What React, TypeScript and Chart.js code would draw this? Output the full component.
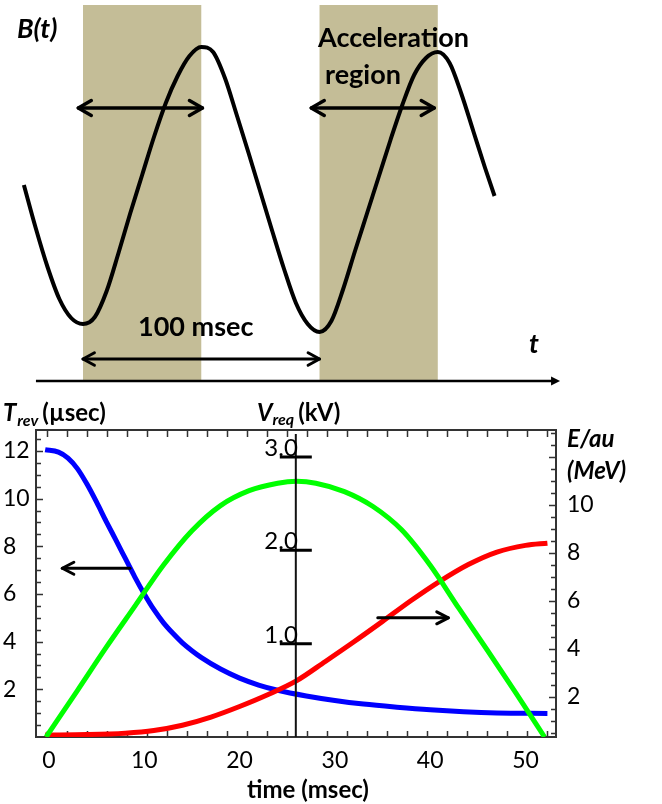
import React, { useEffect, useRef } from 'react';
import { Chart, registerables } from 'chart.js';

Chart.register(...registerables);

const FONT = 'Lato, "Open Sans", "DejaVu Sans", sans-serif';

// ---------------- Top panel: schematic of the magnet field B(t) ----------------
// time in msec (trough-to-trough = 100 msec), field in arbitrary units
const bTime = [-25, -20, -15, -10, -5, 0, 5, 10, 15, 20, 25, 30, 35, 40, 45, 50, 55, 60, 65, 70, 75, 80, 85, 90, 95, 100, 105, 110, 115, 120, 125, 130, 135, 140, 145, 150, 155, 160, 165, 170, 174];
const bField = [196, 153, 114, 82, 63, 57, 64, 90, 128, 168, 206, 244, 278, 305, 325, 334, 329, 303, 266, 228, 189, 150, 112, 78, 57, 49, 60, 92, 130, 167, 204, 241, 276, 306, 323, 329, 318, 287, 250, 213, 185];
const accelStart = [0, 100];
const accelEnd = [50, 150];
const periodText = '100 msec';

// ---------------- Bottom panel ----------------
const timeTicks = [0, 10, 20, 30, 40, 50];
const tRevTicks = [2, 4, 6, 8, 10, 12];
const energyTicks = [2, 4, 6, 8, 10];
const vReqTicks = [1.0, 2.0, 3.0];

// revolution period T_rev (µsec), blue, left axis
const tRevTime = [-0.4, 1, 2, 3, 4, 5, 6, 7, 8, 9, 10, 11, 12, 13, 14, 15, 16, 18, 20, 22, 24, 27, 30, 33, 36.5, 40, 43.5, 47, 52.3];
const tRevValues = [12.05, 11.95, 11.7, 11.25, 10.6, 9.85, 9.05, 8.28, 7.5, 6.72, 6.0, 5.35, 4.8, 4.35, 3.95, 3.62, 3.33, 2.85, 2.47, 2.18, 1.96, 1.72, 1.53, 1.38, 1.25, 1.14, 1.06, 1.01, 0.99];

// required voltage V_req (kV), green, centre axis
const vReqTime = [-0.3, 3, 6, 9, 12, 15, 18, 21, 24, 26, 28, 31, 34, 37, 40, 43, 46, 49, 52];
const vReqValues = [0, 0.5, 0.96, 1.4, 1.84, 2.21, 2.48, 2.64, 2.72, 2.74, 2.72, 2.63, 2.47, 2.22, 1.84, 1.38, 0.93, 0.47, 0];

// energy per nucleon E/au (MeV), red, right axis
const energyTime = [-0.4, 4, 8, 11, 14, 17, 20, 23, 26, 29, 32, 35, 38, 41, 44, 47, 50, 52.3];
const energyValues = [0.41, 0.43, 0.49, 0.6, 0.82, 1.16, 1.6, 2.1, 2.68, 3.48, 4.3, 5.15, 6.02, 6.82, 7.52, 8.04, 8.32, 8.41];

// ---------------- annotation placement (not data) ----------------
const TOP = {
  shadeHigh: 376, shadeLow: 1,
  rangeArrowLevel: 273, rangeArrows: [[-2, 50.5], [96.5, 148.5]],
  periodArrowLevel: 22,
  axisLevel: 0, axisFrom: -19.9, axisTo: 201.7,
};
const BOT = {
  vAxisAt: 25.9,
  leftArrow: { from: 8.5, to: 1.4, level: 7.08 },
  rightArrow: { from: 34.5, to: 41.9, level: 5.3 },
};

const pts = (xs: number[], ys: number[]) => xs.map((x, i) => ({ x, y: ys[i] }));

function chevron(ctx: CanvasRenderingContext2D, tx: number, ty: number, ang: number, len: number, spread: number) {
  ctx.beginPath();
  ctx.moveTo(tx - len * Math.cos(ang - spread), ty - len * Math.sin(ang - spread));
  ctx.lineTo(tx, ty);
  ctx.lineTo(tx - len * Math.cos(ang + spread), ty - len * Math.sin(ang + spread));
  ctx.stroke();
}

function arrow(ctx: CanvasRenderingContext2D, x1: number, y1: number, x2: number, y2: number, both: boolean, width: number, len: number, spread: number) {
  ctx.save();
  ctx.strokeStyle = '#000';
  ctx.lineWidth = width;
  ctx.lineCap = 'round';
  ctx.lineJoin = 'round';
  ctx.beginPath();
  ctx.moveTo(x1, y1);
  ctx.lineTo(x2, y2);
  ctx.stroke();
  const ang = Math.atan2(y2 - y1, x2 - x1);
  chevron(ctx, x2, y2, ang, len, spread);
  if (both) chevron(ctx, x1, y1, ang + Math.PI, len, spread);
  ctx.restore();
}

const topDecor = {
  id: 'topDecor',
  beforeDatasetsDraw(chart: any) {
    const { ctx, scales } = chart;
    const x = scales.x, y = scales.y;
    ctx.save();
    ctx.fillStyle = '#C4BD97';
    const yT = y.getPixelForValue(TOP.shadeHigh);
    const yB = y.getPixelForValue(TOP.shadeLow);
    accelStart.forEach((s, i) => {
      const x1 = x.getPixelForValue(s);
      const x2 = x.getPixelForValue(accelEnd[i]);
      ctx.fillRect(x1, yT, x2 - x1, yB - yT);
    });
    ctx.restore();
  },
  afterDatasetsDraw(chart: any) {
    const { ctx, scales } = chart;
    const x = scales.x, y = scales.y;
    ctx.save();
    // acceleration-region double arrows
    const ya = y.getPixelForValue(TOP.rangeArrowLevel);
    TOP.rangeArrows.forEach(([a, b]) => {
      arrow(ctx, x.getPixelForValue(a), ya, x.getPixelForValue(b), ya, true, 3.5, 15, 0.52);
    });
    // period arrow
    const yp = y.getPixelForValue(TOP.periodArrowLevel);
    arrow(ctx, x.getPixelForValue(accelStart[0]), yp, x.getPixelForValue(accelStart[1]), yp, true, 3, 13, 0.5);
    // time axis
    const yx = y.getPixelForValue(TOP.axisLevel);
    const xs = x.getPixelForValue(TOP.axisFrom);
    const xe = x.getPixelForValue(TOP.axisTo);
    ctx.strokeStyle = '#000';
    ctx.fillStyle = '#000';
    ctx.lineWidth = 2.5;
    ctx.beginPath();
    ctx.moveTo(xs, yx);
    ctx.lineTo(xe - 7, yx);
    ctx.stroke();
    ctx.beginPath();
    ctx.moveTo(xe, yx);
    ctx.lineTo(xe - 9, yx - 4.5);
    ctx.lineTo(xe - 9, yx + 4.5);
    ctx.closePath();
    ctx.fill();
    // texts
    ctx.textBaseline = 'alphabetic';
    ctx.textAlign = 'left';
    ctx.font = `italic bold 27px ${FONT}`;
    ctx.fillText('B(t)', 17, 38);
    ctx.fillText('t', 529, 353);
    ctx.font = `bold 27px ${FONT}`;
    ctx.fillText('Acceleration', 318, 47);
    ctx.fillText('region', 325, 84);
    ctx.fillText(periodText, 138, 336);
    ctx.restore();
  },
};

const bottomFrame = {
  id: 'bottomFrame',
  beforeDatasetsDraw(chart: any) {
    const { ctx, chartArea: a, scales } = chart;
    const xt = scales.xt, yL = scales.y, yE = scales.yE;
    ctx.save();
    ctx.strokeStyle = '#333';
    ctx.lineWidth = 2;
    ctx.strokeRect(a.left, a.top, a.right - a.left, a.bottom - a.top);
    ctx.lineWidth = 1.5;
    ctx.beginPath();
    for (let v = 0; v <= xt.max; v += 2) {
      const px = Math.round(xt.getPixelForValue(v)) + 0.5;
      ctx.moveTo(px, a.top);
      ctx.lineTo(px, a.top + 7);
      ctx.moveTo(px, a.bottom);
      ctx.lineTo(px, a.bottom - 6);
    }
    for (let v = 0.5; v < yL.max; v += 0.5) {
      const py = Math.round(yL.getPixelForValue(v)) + 0.5;
      const len = v % 2 === 0 ? 7 : 5;
      ctx.moveTo(a.left, py);
      ctx.lineTo(a.left + len, py);
    }
    for (let v = 0.5; v < yE.max; v += 0.5) {
      if (v <= yE.min) continue;
      const py = Math.round(yE.getPixelForValue(v)) + 0.5;
      const len = v % 2 === 0 ? 7 : 5;
      ctx.moveTo(a.right, py);
      ctx.lineTo(a.right - len, py);
    }
    ctx.stroke();
    ctx.restore();
  },
  afterDatasetsDraw(chart: any) {
    const { ctx, chartArea: a, scales } = chart;
    const x = scales.x, yL = scales.y, yE = scales.yE, yV = scales.yV;
    ctx.save();
    // centre V_req axis
    const xv = x.getPixelForValue(BOT.vAxisAt);
    ctx.strokeStyle = '#111';
    ctx.lineWidth = 2;
    ctx.beginPath();
    ctx.moveTo(xv, a.top + 4);
    ctx.lineTo(xv, a.bottom);
    ctx.stroke();
    ctx.fillStyle = '#000';
    ctx.font = `24px ${FONT}`;
    ctx.textAlign = 'right';
    ctx.textBaseline = 'alphabetic';
    vReqTicks.forEach((v) => {
      const py = yV.getPixelForValue(v);
      ctx.lineWidth = 3;
      ctx.strokeStyle = '#000';
      ctx.beginPath();
      ctx.moveTo(xv - 16, py);
      ctx.lineTo(xv + 16, py);
      ctx.stroke();
      ctx.fillText(v.toFixed(1), xv + 2, py - 1);
    });
    // direction arrows
    const la = BOT.leftArrow, ra = BOT.rightArrow;
    const yla = yL.getPixelForValue(la.level);
    arrow(ctx, x.getPixelForValue(la.from), yla, x.getPixelForValue(la.to), yla, false, 3, 13, 0.48);
    const yra = yE.getPixelForValue(ra.level);
    arrow(ctx, x.getPixelForValue(ra.from), yra, x.getPixelForValue(ra.to), yra, false, 3, 13, 0.48);
    ctx.restore();
  },
  afterDraw(chart: any) {
    const { ctx } = chart;
    ctx.save();
    ctx.fillStyle = '#000';
    ctx.textAlign = 'left';
    ctx.textBaseline = 'alphabetic';
    // left axis label: T_rev (µsec)
    let cx = 3;
    ctx.font = `italic bold 24px ${FONT}`;
    ctx.fillText('T', cx, 31);
    cx += ctx.measureText('T').width + 1;
    ctx.font = `italic bold 16px ${FONT}`;
    ctx.fillText('rev', cx, 36);
    cx += ctx.measureText('rev').width + 4;
    ctx.font = `bold 24px ${FONT}`;
    ctx.fillText('(\u00b5sec)', cx, 31);
    // centre axis label: V_req (kV)
    cx = 257;
    ctx.font = `italic bold 24px ${FONT}`;
    ctx.fillText('V', cx, 31);
    cx += ctx.measureText('V').width;
    ctx.font = `italic bold 16px ${FONT}`;
    ctx.fillText('req', cx, 35);
    cx += ctx.measureText('req').width + 4;
    ctx.font = `bold 24px ${FONT}`;
    ctx.fillText('(kV)', cx, 31);
    // right axis label
    ctx.font = `italic bold 24px ${FONT}`;
    ctx.fillText('E/au', 567, 57);
    ctx.fillText('(MeV)', 567, 89);
    // x axis title
    ctx.font = `bold 24px ${FONT}`;
    ctx.textAlign = 'center';
    ctx.textBaseline = 'middle';
    ctx.fillText('time (msec)', 308, 400);
    ctx.restore();
  },
};

const tickFont = { family: FONT, size: 23 };

export default function App() {
  const topRef = useRef<HTMLCanvasElement>(null);
  const botRef = useRef<HTMLCanvasElement>(null);

  useEffect(() => {
    const top = new Chart(topRef.current as HTMLCanvasElement, {
      type: 'line',
      data: {
        datasets: [
          {
            label: 'B(t)',
            data: pts(bTime, bField),
            borderColor: '#000',
            borderWidth: 4,
            pointRadius: 0,
            cubicInterpolationMode: 'monotone',
            fill: false,
          },
        ],
      },
      options: {
        responsive: false,
        animation: false,
        layout: { padding: 0 },
        plugins: { legend: { display: false }, tooltip: { enabled: false } },
        scales: {
          x: { type: 'linear', display: false, min: -35.1, max: 244.8 },
          y: { type: 'linear', display: false, min: -9, max: 381 },
        },
      },
      plugins: [topDecor],
    } as any);

    const bot = new Chart(botRef.current as HTMLCanvasElement, {
      type: 'line',
      data: {
        datasets: [
          {
            label: 'V_req (kV)',
            data: pts(vReqTime, vReqValues),
            xAxisID: 'x',
            yAxisID: 'yV',
            borderColor: '#00FF00',
            borderWidth: 5,
            pointRadius: 0,
            cubicInterpolationMode: 'monotone',
            fill: false,
          },
          {
            label: 'E/au (MeV)',
            data: pts(energyTime, energyValues),
            xAxisID: 'x',
            yAxisID: 'yE',
            borderColor: '#FF0000',
            borderWidth: 5,
            pointRadius: 0,
            cubicInterpolationMode: 'monotone',
            fill: false,
          },
          {
            label: 'T_rev (µsec)',
            data: pts(tRevTime, tRevValues),
            xAxisID: 'x',
            yAxisID: 'y',
            borderColor: '#0000FF',
            borderWidth: 5,
            pointRadius: 0,
            cubicInterpolationMode: 'monotone',
            fill: false,
          },
        ],
      },
      options: {
        responsive: false,
        animation: false,
        layout: { padding: { left: 3, top: 40, right: 0, bottom: 0 } },
        plugins: { legend: { display: false }, tooltip: { enabled: false } },
        scales: {
          x: {
            type: 'linear',
            position: 'bottom',
            min: -1.36,
            max: 53.2,
            grid: { display: false, drawTicks: false },
            border: { display: false },
            ticks: { font: tickFont, color: '#000', padding: 10, autoSkip: false, maxRotation: 0 },
            afterBuildTicks: (s: any) => { s.ticks = timeTicks.map((v) => ({ value: v })); },
            afterFit: (s: any) => { s.height = 67; },
          },
          xt: { type: 'linear', display: false, min: -1.07, max: 50.93 },
          y: {
            type: 'linear',
            position: 'left',
            min: 0,
            max: 12.88,
            grid: { display: false, drawTicks: false },
            border: { display: false },
            ticks: { font: tickFont, color: '#000', crossAlign: 'far', autoSkip: false },
            afterBuildTicks: (s: any) => { s.ticks = tRevTicks.map((v) => ({ value: v })); },
            afterFit: (s: any) => { s.width = 33; },
          },
          yE: {
            type: 'linear',
            position: 'right',
            min: 0.33,
            max: 13.13,
            grid: { display: false, drawTicks: false },
            border: { display: false },
            ticks: { font: tickFont, color: '#000', padding: 11, autoSkip: false },
            afterBuildTicks: (s: any) => { s.ticks = energyTicks.map((v) => ({ value: v })); },
            afterFit: (s: any) => { s.width = 106; },
          },
          yV: { type: 'linear', display: false, min: 0, max: 3.29 },
        },
      },
      plugins: [bottomFrame],
    } as any);

    return () => {
      top.destroy();
      bot.destroy();
    };
  }, []);

  return (
    <div style={{ position: 'absolute', left: 0, top: 0, width: 662, height: 804, background: '#fff' }}>
      <canvas ref={topRef} width={662} height={390} style={{ position: 'absolute', left: 0, top: 0, width: 662, height: 390 }} />
      <canvas ref={botRef} width={662} height={414} style={{ position: 'absolute', left: 0, top: 390, width: 662, height: 414 }} />
    </div>
  );
}
